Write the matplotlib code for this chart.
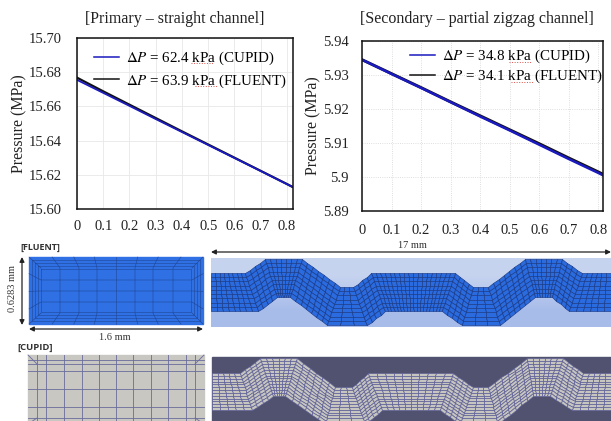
import numpy as np
import matplotlib
matplotlib.use("Agg")
import matplotlib.pyplot as plt
from matplotlib.colors import ListedColormap

plt.rcParams['font.family'] = ['Liberation Serif', 'DejaVu Serif']
plt.rcParams['mathtext.fontset'] = 'stix'

# pressure along the channel
x_vals = [0, 0.1, 0.2, 0.3, 0.4, 0.5, 0.6, 0.7, 0.8, 0.82]
prim_cupid = [15.6755, 15.6679, 15.6603, 15.6526, 15.645, 15.6374, 15.6298, 15.6222, 15.6145, 15.613]
prim_fluent = [15.6768, 15.6688, 15.6610, 15.6532, 15.6454, 15.6377, 15.6300, 15.6223, 15.6146, 15.613]
x_vals2 = [0, 0.1, 0.2, 0.3, 0.4, 0.5, 0.6, 0.7, 0.8, 0.816]
sec_cupid = [5.9345, 5.9303, 5.9262, 5.9220, 5.9178, 5.9137, 5.9095, 5.9053, 5.9012, 5.9005]
sec_fluent = [5.9345, 5.9304, 5.9263, 5.9221, 5.9180, 5.9139, 5.9098, 5.9056, 5.9015, 5.9008]

x_ticks = [0, 0.1, 0.2, 0.3, 0.4, 0.5, 0.6, 0.7, 0.8]
x_labels = ['0', '0.1', '0.2', '0.3', '0.4', '0.5', '0.6', '0.7', '0.8']
y1_ticks = [15.60, 15.62, 15.64, 15.66, 15.68, 15.70]
y1_labels = ['15.60', '15.62', '15.64', '15.66', '15.68', '15.70']
y2_ticks = [5.89, 5.90, 5.91, 5.92, 5.93, 5.94]
y2_labels = ['5.89', '5.9', '5.91', '5.92', '5.93', '5.94']

# zigzag channel outlines, picture pixels
fl_top_x = [211, 245, 265, 302, 340, 353, 371, 455, 473, 488, 525, 562, 582, 611]
fl_top_y = [273, 273, 259, 259, 287, 287, 273, 273, 287, 287, 259, 259, 273, 273]
fl_bot_x = [211, 258, 277, 290, 327, 367, 385, 442, 462, 500, 535, 552, 569, 611]
fl_bot_y = [311, 311, 297, 297, 325, 325, 311, 311, 325, 325, 297, 297, 311, 311]
cu_top_x = [212, 240, 260, 297, 335, 352, 368, 453, 473, 488, 527, 563, 583, 611]
cu_top_y = [373, 373, 358, 358, 387, 387, 373, 373, 387, 387, 358, 358, 373, 373]
cu_bot_x = [212, 252, 273, 285, 325, 365, 382, 440, 460, 498, 533, 550, 572, 611]
cu_bot_y = [410, 410, 396, 396, 424, 424, 410, 410, 424, 424, 396, 396, 410, 410]
fl_cols = [8, 4, 7, 7, 3, 4, 18, 4, 3, 7, 7, 4, 6]
cu_cols = [5, 4, 6, 6, 3, 4, 10, 4, 3, 6, 6, 4, 5]

# cross sections
fl_vert = [60, 79, 97, 116, 135, 153, 173]
fl_horz = [280, 291, 302]
cu_vert = [37, 46, 64, 82, 99, 116, 133, 151, 168, 186, 195]
cu_horz = [360, 364, 371, 389, 407, 418]


def line_plot(rect, xv, cupid, fluent, xmax, ylim, yticks, ylabels, title, leg1, leg2,
              grid_col, grid_style, leg_anchor, spacing, ypad, xpad, title_x, title_pad, lw):
    ax = fig.add_axes(rect)
    ax.plot(xv, fluent, color='#111111', lw=lw + 0.3, label=leg2)
    ax.plot(xv, cupid, color='#1a1ac0', lw=lw, label=leg1)
    ax.set_xlim(0, xmax)
    ax.set_ylim(*ylim)
    ax.set_xticks(x_ticks)
    ax.set_xticklabels(x_labels)
    ax.set_yticks(yticks)
    ax.set_yticklabels(ylabels)
    ax.tick_params(length=0, labelsize=10.5, colors='#222222')
    ax.tick_params(axis='y', pad=ypad)
    ax.tick_params(axis='x', pad=xpad)
    ax.grid(True, color=grid_col, lw=0.6, ls=grid_style)
    ax.set_ylabel('Pressure (MPa)', fontsize=11.5, labelpad=1, color='#222222')
    for s in ax.spines.values():
        s.set_linewidth(1.1)
        s.set_color('#111111')
    h, l = ax.get_legend_handles_labels()
    leg = ax.legend(h[::-1], l[::-1], loc='upper right', bbox_to_anchor=leg_anchor, frameon=False,
                    fontsize=10.8, handlelength=1.65, labelspacing=spacing, handletextpad=0.45,
                    borderaxespad=0, borderpad=0)
    for handle in leg.legend_handles:
        handle.set_linewidth(1.1)
    ax.set_title(title, fontsize=11.5, color='#222222', x=title_x, pad=title_pad)
    return ax


def px_rect(x0, y0, x1, y1):
    return [x0 / 611, 1 - y1 / 421, (x1 - x0) / 611, (y1 - y0) / 421]


def channel(ax, top_x, top_y, bot_x, bot_y, cols, rows, fill, edge, lw):
    xs, yt, xb, yb = [], [], [], []
    for i, n in enumerate(cols):
        end = i == len(cols) - 1
        xs.extend(np.linspace(top_x[i], top_x[i + 1], n + 1)[:None if end else -1])
        yt.extend(np.linspace(top_y[i], top_y[i + 1], n + 1)[:None if end else -1])
        xb.extend(np.linspace(bot_x[i], bot_x[i + 1], n + 1)[:None if end else -1])
        yb.extend(np.linspace(bot_y[i], bot_y[i + 1], n + 1)[:None if end else -1])
    t = np.linspace(0, 1, rows + 1)[:, None]
    X = np.array(xs) * (1 - t) + np.array(xb) * t
    Y = np.array(yt) * (1 - t) + np.array(yb) * t
    ax.pcolormesh(X, Y, np.zeros((rows, X.shape[1] - 1)), cmap=ListedColormap([fill]),
                  edgecolors=edge, linewidth=lw, shading='flat', antialiased=True, zorder=2)


def section(ax, x0, y0, x1, y1, inner, fill, edge, lw, vert, horz, insets, fan_x, fan_y):
    ax.fill([x0, x1, x1, x0], [y0, y0, y1, y1], color=fill, zorder=2)
    ix0, iy0, ix1, iy1 = inner
    xc = (x0 + x1) / 2
    yc = (y0 + y1) / 2
    for d in insets:
        ax.plot([x0 + d, x1 - d, x1 - d, x0 + d, x0 + d],
                [y0 + d, y0 + d, y1 - d, y1 - d, y0 + d], color=edge, lw=lw, zorder=3)
    for vx in vert:
        outer = xc + (vx - xc) * fan_x
        ax.plot([outer, vx, vx, outer], [y0, iy0, iy1, y1], color=edge, lw=lw, zorder=3)
    for hy in horz:
        outer = yc + (hy - yc) * fan_y
        ax.plot([x0, ix0, ix1, x1], [outer, hy, hy, outer], color=edge, lw=lw, zorder=3)
    for cx, cy, jx, jy in [(x0, y0, ix0, iy0), (x1, y0, ix1, iy0), (x0, y1, ix0, iy1), (x1, y1, ix1, iy1)]:
        ax.plot([cx, jx], [cy, jy], color=edge, lw=lw, zorder=3)


fig = plt.figure(figsize=(6.11, 4.21), dpi=100)

line_plot(px_rect(77, 38, 293, 209), x_vals, prim_cupid, prim_fluent, 0.823, (15.60, 15.70),
          y1_ticks, y1_labels, '[Primary – straight channel]',
          r'$\Delta P$ = 62.4 kPa (CUPID)', r'$\Delta P$ = 63.9 kPa (FLUENT)',
          '#e8e8e8', '-', (0.97, 0.93), 0.35, 11, 8, 0.454, 11, 1.3)
line_plot(px_rect(362, 41, 603, 211), x_vals2, sec_cupid, sec_fluent, 0.816, (5.89, 5.94),
          y2_ticks, y2_labels, '[Secondary – partial zigzag channel]',
          r'$\Delta P$ = 34.8 kPa (CUPID)', r'$\Delta P$ = 34.1 kPa (FLUENT)',
          '#d4d4d4', ':', (0.998, 0.96), 0.2, 9.5, 9, 0.477, 13, 1.8)

# overlay in picture pixels for the mesh pictures
ov = fig.add_axes([0, 0, 1, 1], zorder=-1)
ov.axis('off')

# backgrounds
ov.imshow(np.array([[0.78, 0.83, 0.94], [0.66, 0.74, 0.92]])[:, None, :], extent=(211, 611, 327, 258),
          aspect='auto', interpolation='bilinear', zorder=1)
ov.fill([212, 611, 611, 212], [357, 357, 421, 421], color='#50526f', zorder=1)
ov.set_xlim(0, 611)
ov.set_ylim(421, 0)

channel(ov, fl_top_x, fl_top_y, fl_bot_x, fl_bot_y, fl_cols, 9, '#2b6be0', '#1a3a85', 0.45)
channel(ov, cu_top_x, cu_top_y, cu_bot_x, cu_bot_y, cu_cols, 13, '#c6c5c0', '#5a5c98', 0.45)

section(ov, 29, 257, 203, 324, (41, 268, 192, 313), '#2f70e4', '#1f4594', 0.4, fl_vert, fl_horz, [3, 6, 9, 12], 1.14, 1.6)
section(ov, 28, 355, 204, 424, (37, 364, 195, 418), '#c8c7c1', '#6a6c9c', 0.6, cu_vert, cu_horz, [], 1.0, 1.0)

# dimension arrows
arrow = dict(arrowstyle='<|-|>', color='#222222', lw=0.9, mutation_scale=7, shrinkA=0, shrinkB=0)
ov.annotate('', xy=(211, 252), xytext=(611, 252), arrowprops=arrow, zorder=4)
ov.annotate('', xy=(29, 329), xytext=(203, 329), arrowprops=arrow, zorder=4)
ov.annotate('', xy=(22, 257), xytext=(22, 325), arrowprops=arrow, zorder=4)

ov.text(412, 245, '17 mm', fontsize=7.5, ha='center', va='center', color='#333333')
ov.text(115, 338, '1.6 mm', fontsize=7.5, ha='center', va='center', color='#333333')
ov.text(13, 288, '0.6283 mm', fontsize=7.5, rotation=90, ha='center', va='center', color='#333333')
ov.text(20, 247, '[FLUENT]', fontsize=6.5, fontweight='bold', family=['Open Sans', 'DejaVu Sans'],
        ha='left', va='center', color='#333333')
ov.text(17, 347, '[CUPID]', fontsize=6.8, fontweight='bold', family=['Open Sans', 'DejaVu Sans'],
        ha='left', va='center', color='#333333')

# spell-check squiggles under kPa
for sx0, sx1, sy in [(191, 213, 63), (195, 217, 86), (509, 532, 62), (511, 533, 82)]:
    fig.add_artist(plt.Line2D([sx0 / 611, sx1 / 611], [1 - sy / 421, 1 - sy / 421], color='#d8504a', lw=0.7, ls=':'))

fig.savefig('out.png', dpi=100)
